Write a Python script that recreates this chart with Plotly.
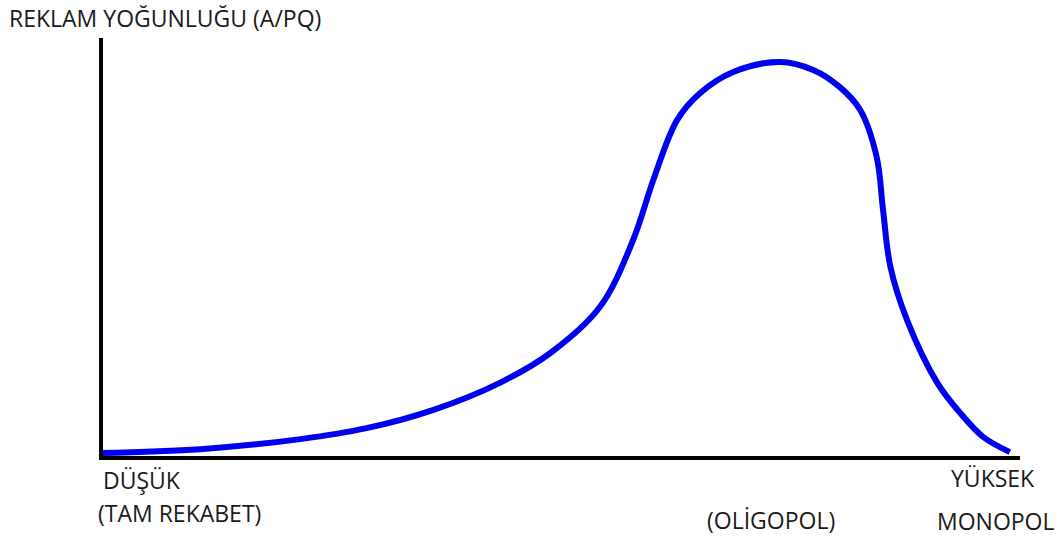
import plotly.graph_objects as go

# Market structure (0 = perfect competition, 100 = monopoly) vs advertising intensity
concentration = [0.0, 10.8, 21.7, 28.9, 36.1, 43.4, 48.9, 54.3, 57.9, 60.1, 62.7,
                 65.2, 68.8, 73.9, 77.5, 80.4, 82.6, 84.4, 85.1, 85.9, 87.7, 91.0,
                 93.5, 96.0, 98.9]
intensity = [1.2, 2.1, 4.5, 7.1, 11.4, 17.9, 25.0, 36.0, 51.9, 66.2, 80.5,
             86.9, 91.9, 94.3, 92.4, 88.3, 82.9, 71.7, 59.0, 45.5, 32.9, 17.9,
             10.7, 5.0, 1.4]

y_title = "REKLAM YOĞUNLUĞU (A/PQ)"
x_labels = ["DÜŞÜK", "(TAM REKABET)", "(OLİGOPOL)", "YÜKSEK", "MONOPOL"]

W, H = 1062, 537
L, R, T, B = 101, 42, 38, 79
pw, ph = W - L - R, H - T - B

def px(x):
    return (x - L) / pw

def py(y):
    return (H - B - y) / ph

fig = go.Figure()
fig.add_trace(go.Scatter(
    x=concentration, y=intensity, mode="lines",
    line=dict(color="#0000f0", width=6, shape="spline", smoothing=1.0),
    hoverinfo="skip", showlegend=False, cliponaxis=False,
))

font = dict(family="Open Sans, sans-serif", size=23, color="#1a1a1a")
ann = [
    dict(text=y_title, x=px(7), y=py(18), xanchor="left", yanchor="middle"),
    dict(text=x_labels[0], x=px(101), y=py(480), xanchor="left", yanchor="middle"),
    dict(text=x_labels[1], x=px(96), y=py(513), xanchor="left", yanchor="middle"),
    dict(text=x_labels[2], x=px(771), y=py(520), xanchor="center", yanchor="middle"),
    dict(text=x_labels[3], x=px(993), y=py(478), xanchor="center", yanchor="middle"),
    dict(text=x_labels[4], x=px(996), y=py(521), xanchor="center", yanchor="middle"),
]
for a in ann:
    a.update(xref="paper", yref="paper", showarrow=False, font=font)

shapes = [
    dict(type="line", xref="paper", yref="paper", x0=px(101), x1=px(101), y0=py(38), y1=py(460),
         line=dict(color="black", width=4)),
    dict(type="line", xref="paper", yref="paper", x0=px(99), x1=px(1020), y0=py(458), y1=py(458),
         line=dict(color="black", width=4)),
]

fig.update_layout(
    width=W, height=H,
    margin=dict(l=L, r=R, t=T, b=B),
    paper_bgcolor="white", plot_bgcolor="white",
    xaxis=dict(range=[0, 100], visible=False, fixedrange=True),
    yaxis=dict(range=[0, 100], visible=False, fixedrange=True),
    annotations=ann, shapes=shapes,
)
fig.write_html("out.html", config={"displayModeBar": False},
               post_script="document.body.style.margin='0';")
